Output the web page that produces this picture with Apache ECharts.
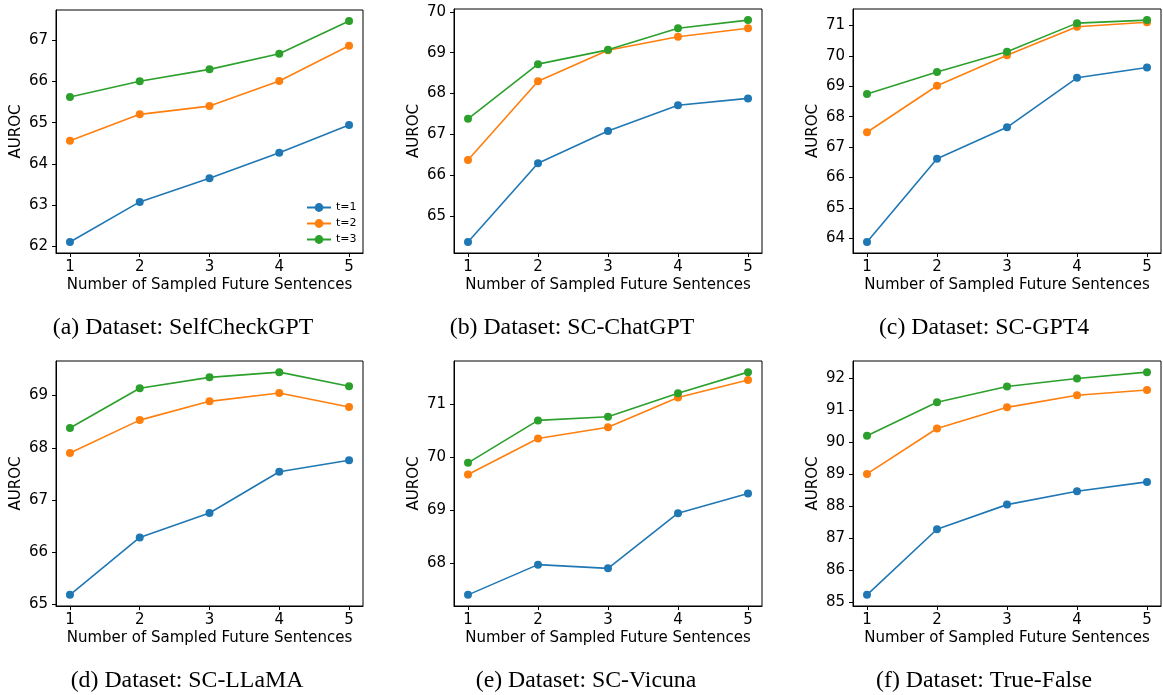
<!DOCTYPE html>
<html>
<head>
<meta charset="utf-8">
<script src="https://cdn.jsdelivr.net/npm/echarts@6/dist/echarts.min.js"></script>
<style>
  html, body { margin: 0; padding: 0; background: #fff; }
  #chart { width: 1163px; height: 695px; }
</style>
</head>
<body>
<div id="chart"></div>
<script>
// x values shared by every panel
const sampleCounts = [1, 2, 3, 4, 5]
const seriesNames = ['t=1', 't=2', 't=3']
const seriesColors = ['#1f77b4', '#ff7f0e', '#2ca02c']

const captions = [
    '(a) Dataset: SelfCheckGPT',
    '(b) Dataset: SC-ChatGPT',
    '(c) Dataset: SC-GPT4',
    '(d) Dataset: SC-LLaMA',
    '(e) Dataset: SC-Vicuna',
    '(f) Dataset: True-False'
]

// AUROC per panel, rows are t=1, t=2, t=3
const selfCheckGPT = [
    [62.11, 63.08, 63.65, 64.27, 64.94],
    [64.56, 65.20, 65.40, 66.01, 66.86],
    [65.62, 66.00, 66.29, 66.67, 67.46]
]
const scChatGPT = [
    [64.36, 66.29, 67.08, 67.71, 67.88],
    [66.37, 68.30, 69.06, 69.39, 69.60],
    [67.38, 68.72, 69.07, 69.60, 69.80]
]
const scGPT4 = [
    [63.88, 66.62, 67.65, 69.28, 69.62],
    [67.49, 69.02, 70.02, 70.96, 71.11],
    [68.75, 69.47, 70.14, 71.08, 71.18]
]
const scLLaMA = [
    [65.18, 66.28, 66.75, 67.54, 67.76],
    [67.90, 68.53, 68.89, 69.05, 68.78],
    [68.38, 69.14, 69.35, 69.45, 69.18]
]
const scVicuna = [
    [67.41, 67.98, 67.91, 68.95, 69.32],
    [69.68, 70.36, 70.57, 71.13, 71.46],
    [69.90, 70.70, 70.77, 71.21, 71.61]
]
const trueFalse = [
    [85.24, 87.29, 88.06, 88.48, 88.77],
    [89.02, 90.44, 91.10, 91.48, 91.64],
    [90.21, 91.26, 91.75, 92.00, 92.20]
]

// y tick labels per panel
const yTicksA = [62, 63, 64, 65, 66, 67]
const yTicksB = [65, 66, 67, 68, 69, 70]
const yTicksC = [64, 65, 66, 67, 68, 69, 70, 71]
const yTicksD = [65, 66, 67, 68, 69]
const yTicksE = [68, 69, 70, 71]
const yTicksF = [85, 86, 87, 88, 89, 90, 91, 92]

const panels = [selfCheckGPT, scChatGPT, scGPT4, scLLaMA, scVicuna, trueFalse]
const panelTicks = [yTicksA, yTicksB, yTicksC, yTicksD, yTicksE, yTicksF]

const gridBoxes = [
    {left: 56, top: 10, width: 307, height: 243},
    {left: 454, top: 9, width: 308, height: 244},
    {left: 853, top: 9, width: 308, height: 244},
    {left: 56, top: 361, width: 307, height: 245},
    {left: 454, top: 361, width: 308, height: 245},
    {left: 853, top: 361, width: 308, height: 245}
]
const captionPos = [
    [183, 328], [572, 328], [984, 328],
    [187, 681], [586, 681], [984, 681]
]

const sansFont = 'DejaVu Sans'
const labelSize = 15

function axisBase() {
    return {
        axisLine: {show: true, lineStyle: {color: '#000', width: 1}},
        axisTick: {show: true, inside: false, length: 4, lineStyle: {color: '#000', width: 1}},
        splitLine: {show: false},
        nameTextStyle: {fontFamily: sansFont, fontSize: labelSize, color: '#000'}
    }
}

const grid = []
const xAxis = []
const yAxis = []
const series = []
const graphic = []

panels.forEach((rows, i) => {
    grid.push({
        ...gridBoxes[i],
        show: true,
        borderColor: '#000',
        borderWidth: 1,
        backgroundColor: 'transparent'
    })

    const base = axisBase()
    xAxis.push({
        ...base,
        gridIndex: i,
        type: 'value',
        min: 0.8,
        max: 5.2,
        name: 'Number of Sampled Future Sentences',
        nameLocation: 'middle',
        nameGap: 25,
        axisTick: {...base.axisTick, customValues: sampleCounts},
        axisLabel: {
            customValues: sampleCounts,
            margin: 7,
            fontFamily: sansFont,
            fontSize: labelSize,
            color: '#000'
        }
    })

    // matplotlib style 5% margins around the data
    const all = rows.flat()
    const lo = Math.min(...all)
    const hi = Math.max(...all)
    const pad = (hi - lo) * 0.05
    yAxis.push({
        ...axisBase(),
        gridIndex: i,
        type: 'value',
        min: lo - pad,
        max: hi + pad,
        name: 'AUROC',
        nameLocation: 'middle',
        nameGap: 32,
        axisTick: {...base.axisTick, customValues: panelTicks[i]},
        axisLabel: {
            customValues: panelTicks[i],
            margin: 8,
            fontFamily: sansFont,
            fontSize: labelSize,
            color: '#000'
        }
    })

    rows.forEach((vals, k) => {
        series.push({
            name: seriesNames[k],
            type: 'line',
            xAxisIndex: i,
            yAxisIndex: i,
            data: sampleCounts.map((x, j) => [x, vals[j]]),
            symbol: 'circle',
            symbolSize: 8,
            showSymbol: true,
            animation: false,
            lineStyle: {color: seriesColors[k], width: 1.6},
            itemStyle: {color: seriesColors[k]},
            z: 2 + k
        })
    })

    graphic.push({
        type: 'text',
        x: captionPos[i][0],
        y: captionPos[i][1],
        style: {
            text: captions[i],
            fontFamily: 'Liberation Serif',
            fontSize: 23.8,
            fill: '#000',
            align: 'center',
            verticalAlign: 'middle'
        }
    })
})

const chart = echarts.init(document.getElementById('chart'), null, {renderer: 'canvas'})
chart.setOption({
    backgroundColor: '#fff',
    animation: false,
    grid,
    xAxis,
    yAxis,
    series,
    graphic,
    legend: {
        data: seriesNames,
        orient: 'vertical',
        left: 301,
        top: 197,
        itemWidth: 24,
        itemHeight: 11,
        itemGap: 5,
        selectedMode: false,
        textStyle: {fontFamily: sansFont, fontSize: 11, color: '#000'}
    }
})
window.addEventListener('resize', chart.resize)
</script>
</body>
</html>
